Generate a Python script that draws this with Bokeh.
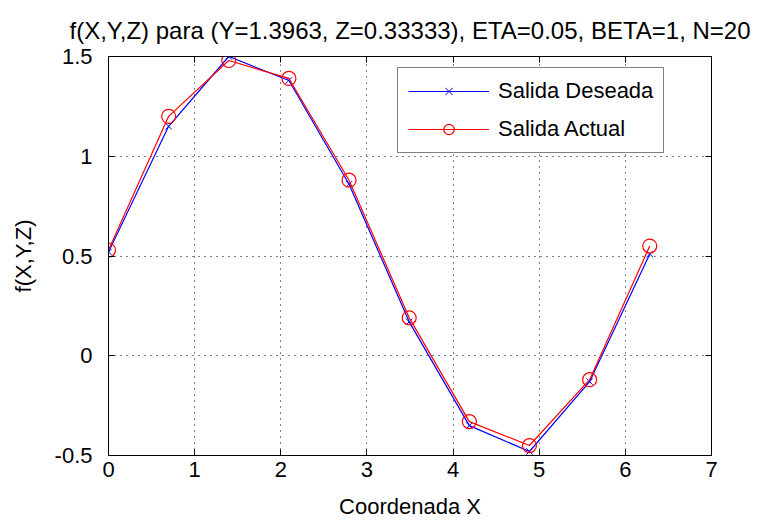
from bokeh.plotting import figure
from bokeh.models import (Range1d, LinearAxis, FixedTicker, Legend, LegendItem)
from bokeh.embed import file_html
from bokeh.resources import INLINE

# data
x_vals = [0.0, 0.6981, 1.3963, 2.0944, 2.7925, 3.4907, 4.1888, 4.8869, 5.5851, 6.2832]
deseada = [0.52, 1.15, 1.50, 1.38, 0.86, 0.17, -0.35, -0.48, -0.13, 0.51]
actual = [0.53, 1.20, 1.48, 1.39, 0.88, 0.19, -0.33, -0.45, -0.12, 0.55]
x_ticks = [0, 1, 2, 3, 4, 5, 6, 7]
y_ticks = [-0.5, 0, 0.5, 1, 1.5]
y_tick_labels = ["-0.5", "0", "0.5", "1", "1.5"]
title_text = "f(X,Y,Z) para (Y=1.3963, Z=0.33333), ETA=0.05, BETA=1, N=20"
x_label = "Coordenada X"
y_label = "f(X,Y,Z)"
names = ["Salida Deseada", "Salida Actual"]

FONT = "Liberation Sans"
FS = "22px"

p = figure(width=772, height=521, output_backend="svg", toolbar_location=None,
           x_range=Range1d(0, 7), y_range=Range1d(-0.5, 1.5),
           min_border_left=108, min_border_right=61, min_border_top=56, min_border_bottom=66)

p.title.text = title_text
p.title.align = "center"
p.title.text_font = FONT
p.title.text_font_size = "24px"
p.title.text_font_style = "normal"
p.title.text_color = "black"
p.title.standoff = 26

p.outline_line_color = "black"
p.outline_line_width = 1

for ax in (p.xaxis[0], p.yaxis[0]):
    ax.major_label_text_font = FONT
    ax.major_label_text_font_size = FS
    ax.major_label_text_color = "black"
    ax.axis_label_text_font = FONT
    ax.axis_label_text_font_size = FS
    ax.axis_label_text_font_style = "normal"
    ax.axis_label_text_color = "black"
    ax.major_tick_in = 6
    ax.major_tick_out = 0
    ax.minor_tick_line_color = None
    ax.axis_line_color = "black"
    ax.major_tick_line_color = "black"

p.xaxis[0].ticker = FixedTicker(ticks=x_ticks)
p.yaxis[0].ticker = FixedTicker(ticks=y_ticks)
p.yaxis[0].major_label_overrides = {t: l for t, l in zip(y_ticks, y_tick_labels)}
p.xaxis[0].axis_label = x_label
p.yaxis[0].axis_label = y_label
p.xaxis[0].major_label_standoff = 6
p.yaxis[0].major_label_standoff = 16
p.xaxis[0].axis_label_standoff = 14
p.yaxis[0].axis_label_standoff = 16

# box ticks on top and right (labels not drawn)
top = LinearAxis(ticker=FixedTicker(ticks=x_ticks), major_tick_in=6, major_tick_out=0,
                 minor_tick_line_color=None, major_label_text_color=None,
                 major_label_text_font_size="0px", major_label_standoff=0,
                 axis_line_color="black")
right = LinearAxis(ticker=FixedTicker(ticks=y_ticks), major_tick_in=6, major_tick_out=0,
                   minor_tick_line_color=None, major_label_text_color=None,
                   major_label_text_font_size="0px", major_label_standoff=0,
                   axis_line_color="black")
p.add_layout(top, "above")
p.add_layout(right, "right")

for g in (p.xgrid[0], p.ygrid[0]):
    g.grid_line_color = "black"
    g.grid_line_dash = "1 5"
    g.grid_line_width = 1
    g.grid_line_alpha = 1.0
p.xgrid[0].ticker = FixedTicker(ticks=x_ticks)
p.ygrid[0].ticker = FixedTicker(ticks=y_ticks)

l1 = p.line(x_vals, deseada, line_color="blue", line_width=1.2)
s1 = p.scatter(x_vals, deseada, marker="x", size=9, line_color="blue", line_width=1)
l2 = p.line(x_vals, actual, line_color="red", line_width=1.2)
s2 = p.scatter(x_vals, actual, marker="circle", size=14, line_color="red",
               fill_color=None, line_width=1.2)

legend = Legend(items=[LegendItem(label=names[0], renderers=[l1, s1]),
                       LegendItem(label=names[1], renderers=[l2, s2])],
                location=(289, 302), orientation="vertical",
                glyph_width=81, glyph_height=26, label_height=26, spacing=12,
                padding=10, margin=0, label_standoff=9,
                label_text_font=FONT, label_text_font_size=FS, label_text_color="black",
                border_line_color="black", border_line_width=1,
                background_fill_color="white", background_fill_alpha=1.0)
p.add_layout(legend, "center")

open("out.html", "w").write(file_html(p, INLINE))
